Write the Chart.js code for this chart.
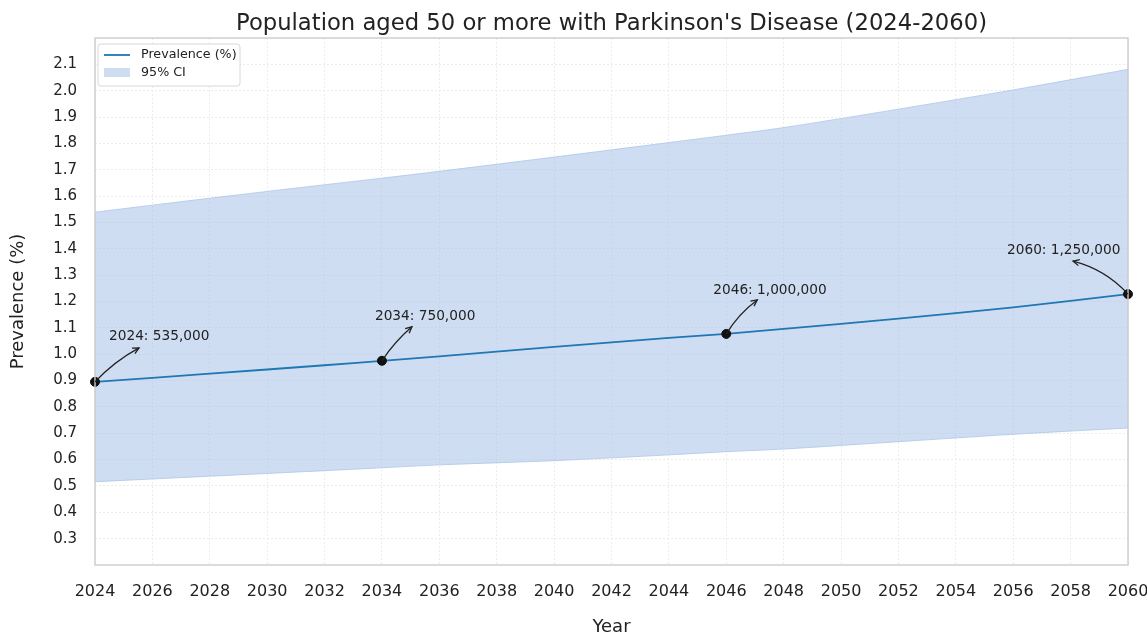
<!DOCTYPE html>
<html>
<head>
<meta charset="utf-8">
<script src="https://cdn.jsdelivr.net/npm/chart.js@4.4.0/dist/chart.umd.min.js"></script>
<style>
  html, body { margin: 0; padding: 0; background: #fff; }
  #wrap { width: 1147px; height: 638px; }
</style>
</head>
<body>
<div id="wrap"><canvas id="grafico" width="1147" height="638"></canvas></div>
<script>
// data
const years = [2024, 2028, 2032, 2034, 2036, 2040, 2044, 2046, 2048, 2052, 2056, 2060];
const prevalence = [0.895, 0.926, 0.958, 0.975, 0.992, 1.028, 1.062, 1.077, 1.096, 1.135, 1.178, 1.228];
const ciUpper = [1.539, 1.592, 1.643, 1.668, 1.694, 1.748, 1.803, 1.831, 1.860, 1.930, 2.003, 2.081];
const ciLower = [0.516, 0.537, 0.558, 0.569, 0.580, 0.596, 0.618, 0.630, 0.640, 0.668, 0.696, 0.720];

const keyYears = [2024, 2034, 2046, 2060];
const keyCases = [535000, 750000, 1000000, 1250000];

const chartTitle = "Population aged 50 or more with Parkinson's Disease (2024-2060)";

// callout placement (pixel offsets from the marker): text left/centre, arrow head, bend
const calloutStyle = [
    { tx: 14, ty: -45, hx: 44, hy: -34, rad: 0.08 },
    { tx: -7, ty: -44, hx: 30, hy: -34, rad: 0.07 },
    { tx: -13, ty: -43, hx: 31, hy: -34, rad: 0.1 },
    { tx: -121, ty: -44, hx: -55, hy: -33, rad: -0.15 }
];

const toPoints = (xs, ys) => xs.map((x, i) => ({ x: x, y: ys[i] }));
const keyPoints = keyYears.map(y => ({ x: y, y: prevalence[years.indexOf(y)] }));

const fontFamily = "'DejaVu Sans', sans-serif";

const frameAndCallouts = {
    id: 'frameAndCallouts',
    afterDatasetsDraw(chart) {
        const ctx = chart.ctx;
        const area = chart.chartArea;
        const xScale = chart.scales.x;
        const yScale = chart.scales.y;

        ctx.save();
        ctx.strokeStyle = '#cccccc';
        ctx.lineWidth = 1.4;
        ctx.strokeRect(area.left, area.top, area.right - area.left, area.bottom - area.top);

        // title, centred over the plot area
        ctx.fillStyle = '#222222';
        ctx.font = '22.7px ' + fontFamily;
        ctx.textAlign = 'center';
        ctx.textBaseline = 'alphabetic';
        ctx.fillText(chartTitle, (area.left + area.right) / 2, 30);

        // callouts
        ctx.font = '13.7px ' + fontFamily;
        ctx.textBaseline = 'middle';
        ctx.textAlign = 'left';
        keyPoints.forEach((p, i) => {
            const s = calloutStyle[i];
            const px = xScale.getPixelForValue(p.x);
            const py = yScale.getPixelForValue(p.y);
            const label = keyYears[i] + ': ' + keyCases[i].toLocaleString('en-US');
            ctx.fillText(label, px + s.tx, py + s.ty);

            const x1 = px, y1 = py;
            const x2 = px + s.hx, y2 = py + s.hy;
            const dx = x2 - x1, dy = y2 - y1;
            const cx = (x1 + x2) / 2 + s.rad * dy;
            const cy = (y1 + y2) / 2 - s.rad * dx;
            ctx.strokeStyle = '#222222';
            ctx.lineWidth = 1.3;
            ctx.beginPath();
            ctx.moveTo(x1, y1);
            ctx.quadraticCurveTo(cx, cy, x2, y2);
            ctx.stroke();
            const ang = Math.atan2(y2 - cy, x2 - cx);
            const len = 7;
            ctx.beginPath();
            ctx.moveTo(x2 - len * Math.cos(ang - 0.45), y2 - len * Math.sin(ang - 0.45));
            ctx.lineTo(x2, y2);
            ctx.lineTo(x2 - len * Math.cos(ang + 0.45), y2 - len * Math.sin(ang + 0.45));
            ctx.stroke();
        });

        // legend box
        const lx = area.left + 3, ly = area.top + 6;
        ctx.fillStyle = 'rgba(255,255,255,0.85)';
        ctx.strokeStyle = '#d8d8d8';
        ctx.lineWidth = 1;
        ctx.beginPath();
        ctx.roundRect(lx, ly, 142, 42, 3);
        ctx.fill();
        ctx.stroke();
        ctx.strokeStyle = '#1f77b4';
        ctx.lineWidth = 1.8;
        ctx.beginPath();
        ctx.moveTo(lx + 6, ly + 11);
        ctx.lineTo(lx + 32, ly + 11);
        ctx.stroke();
        ctx.fillStyle = 'rgba(174,199,232,0.6)';
        ctx.fillRect(lx + 6, ly + 24, 26, 9);
        ctx.fillStyle = '#222222';
        ctx.font = '12.7px ' + fontFamily;
        ctx.fillText(chart.data.datasets[1].label, lx + 43, ly + 11);
        ctx.fillText(chart.data.datasets[2].label, lx + 43, ly + 29);
        ctx.restore();
    }
};

const canvasContext = document.getElementById('grafico').getContext('2d');
new Chart(canvasContext, {
    type: 'line',
    data: {
        datasets: [
            {
                type: 'scatter',
                label: 'Key years',
                data: keyPoints,
                pointRadius: 4.5,
                pointBackgroundColor: '#111111',
                pointBorderColor: '#111111',
                showLine: false,
                clip: false
            },
            {
                label: 'Prevalence (%)',
                data: toPoints(years, prevalence),
                borderColor: '#1f77b4',
                borderWidth: 1.8,
                pointRadius: 0,
                tension: 0.3,
                fill: false
            },
            {
                label: '95% CI',
                data: toPoints(years, ciUpper),
                borderColor: 'rgba(174,199,232,0.8)',
                borderWidth: 1,
                backgroundColor: 'rgba(174,199,232,0.6)',
                pointRadius: 0,
                tension: 0.3,
                fill: '+1'
            },
            {
                label: 'CI lower',
                data: toPoints(years, ciLower),
                borderColor: 'rgba(174,199,232,0.8)',
                borderWidth: 1,
                pointRadius: 0,
                tension: 0.3,
                fill: false
            }
        ]
    },
    options: {
        responsive: false,
        animation: false,
        layout: { padding: { top: 38, right: 19, left: 0, bottom: 0 } },
        plugins: {
            legend: { display: false },
            tooltip: { enabled: false },
            title: { display: false }
        },
        scales: {
            x: {
                type: 'linear',
                min: 2024,
                max: 2060,
                ticks: {
                    stepSize: 2,
                    color: '#222222',
                    font: { size: 16, family: fontFamily },
                    padding: 17,
                    maxRotation: 0,
                    callback: (value) => String(value)
                },
                grid: { color: '#ececec', drawTicks: false },
                border: { display: false, dash: [2, 2] },
                title: {
                    display: true,
                    text: 'Year',
                    color: '#222222',
                    font: { size: 18, family: fontFamily },
                    padding: { top: 0, bottom: 0 }
                },
                afterFit: (scale) => {
                    scale.height = 73;
                    scale.paddingRight = 0;
                }
            },
            y: {
                min: 0.2,
                max: 2.2,
                ticks: {
                    stepSize: 0.1,
                    color: '#222222',
                    font: { size: 15, family: fontFamily },
                    padding: 18,
                    callback: (value) => value.toFixed(1)
                },
                afterBuildTicks: (scale) => {
                    scale.ticks = scale.ticks.filter(t => t.value > 0.25 && t.value < 2.15);
                },
                grid: { color: '#ececec', drawTicks: false },
                border: { display: false, dash: [2, 2] },
                title: {
                    display: true,
                    text: 'Prevalence (%)',
                    color: '#222222',
                    font: { size: 18, family: fontFamily },
                    padding: { top: 8, bottom: 0 }
                },
                afterFit: (scale) => { scale.width = 95; }
            }
        }
    },
    plugins: [frameAndCallouts]
});
</script>
</body>
</html>
